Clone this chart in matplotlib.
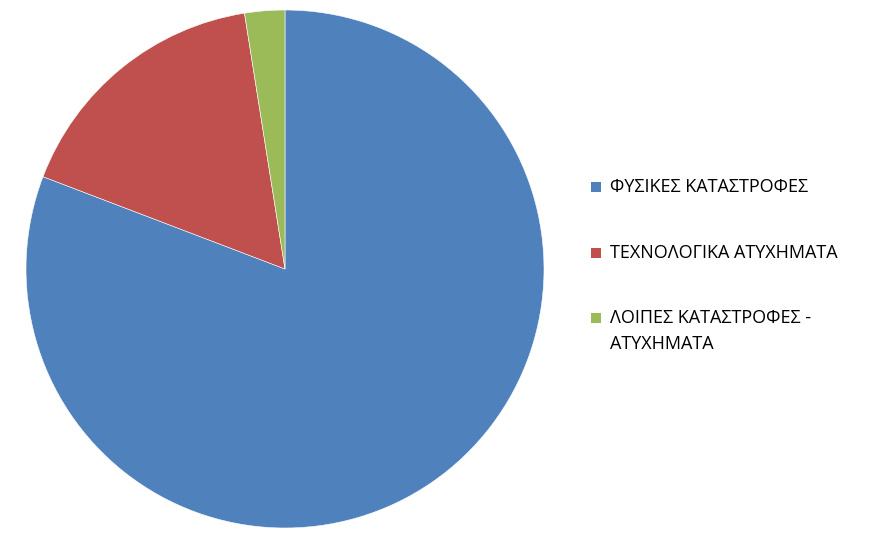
import matplotlib
matplotlib.use('Agg')
import matplotlib.pyplot as plt
from matplotlib.patches import Rectangle

categories = ['ΦΥΣΙΚΕΣ ΚΑΤΑΣΤΡΟΦΕΣ', 'ΤΕΧΝΟΛΟΓΙΚΑ ΑΤΥΧΗΜΑΤΑ', 'ΛΟΙΠΕΣ ΚΑΤΑΣΤΡΟΦΕΣ -\nΑΤΥΧΗΜΑΤΑ']
values = [80.8, 16.7, 2.5]
colors = ['#4F81BD', '#C0504D', '#9BBB59']

W, H = 872, 545
fig = plt.figure(figsize=(W / 100, H / 100), dpi=100)

# pie centre and radius in pixels
cx, cy, r = 285, 269, 259
ax = fig.add_axes([(cx - r) / W, 1 - (cy + r) / H, 2 * r / W, 2 * r / H])
ax.pie(values, colors=colors, startangle=90, counterclock=False,
       wedgeprops=dict(edgecolor='white', linewidth=0.4))
ax.set_xlim(-1, 1)
ax.set_ylim(-1, 1)
ax.set_aspect('equal')
ax.axis('off')

# legend drawn by hand
rows = [187, 253, 318]
for lab, col, y in zip(categories, colors, rows):
    fig.patches.append(Rectangle((591 / W, 1 - (y + 5) / H), 10 / W, 10 / H,
                                 transform=fig.transFigure, facecolor=col, edgecolor='none'))
    fig.text(610 / W, 1 - (y - 9) / H, lab, fontsize=13, family='Open Sans',
             va='top', ha='left', color='black', linespacing=1.55)

fig.savefig('out.png', dpi=100)
